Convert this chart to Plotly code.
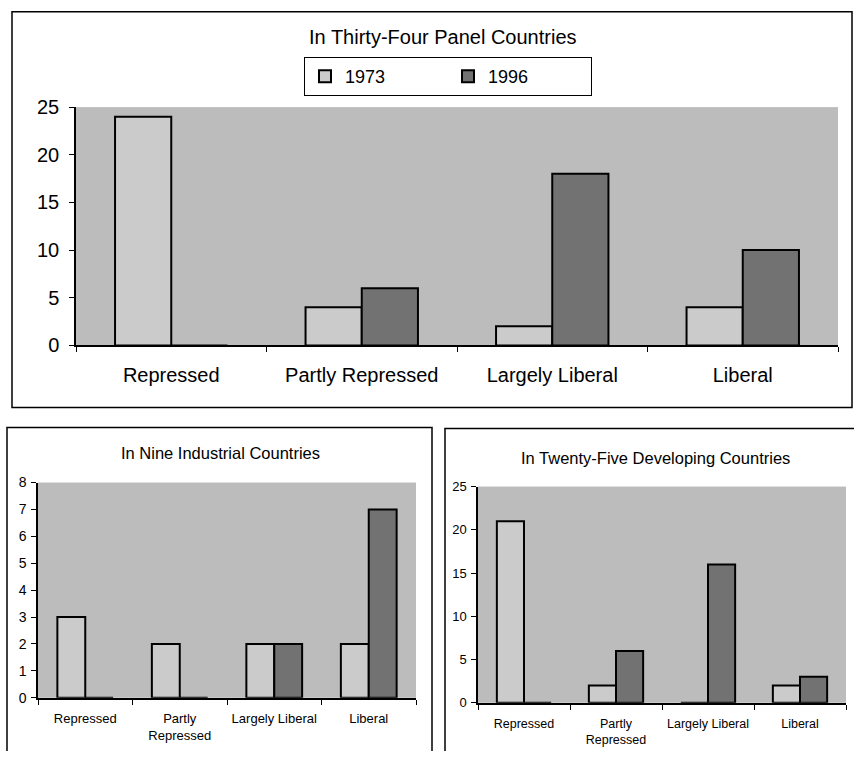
import plotly.graph_objects as go

# Financial-regime categories and country counts per year
categories = ["Repressed", "Partly Repressed", "Largely Liberal", "Liberal"]
categories_small = ["Repressed", "Partly<br>Repressed", "Largely Liberal", "Liberal"]
years = ["1973", "1996"]

panel_1973 = [24, 4, 2, 4]
panel_1996 = [0, 6, 18, 10]

industrial_1973 = [3, 2, 2, 2]
industrial_1996 = [0, 0, 2, 7]

developing_1973 = [21, 2, 0, 2]
developing_1996 = [0, 6, 16, 3]

W, H = 854, 762
FONT = "Liberation Sans, Arial, sans-serif"
PLOT_BG = "#bcbcbc"
COLOR_1973 = "#cbcbcb"
COLOR_1996 = "#727272"

# rows are given in screen pixels and converted to figure rows
ROW_OFFSET, ROW_SCALE = 11.0, 0.97


def px_x(x):
    return x / W


def px_y(y):
    fig_row = (y - ROW_OFFSET) / ROW_SCALE
    return min(1.0, max(0.0, 1 - fig_row / H))


fig = go.Figure()

panels = [
    # (x axis, y axis, categories, 1973, 1996, show legend)
    ("x", "y", categories, panel_1973, panel_1996, True),
    ("x2", "y2", categories_small, industrial_1973, industrial_1996, False),
    ("x3", "y3", categories_small, developing_1973, developing_1996, False),
]

for xa, ya, cats, v73, v96, show in panels:
    for name, vals, col in ((years[0], v73, COLOR_1973), (years[1], v96, COLOR_1996)):
        fig.add_trace(go.Bar(
            x=cats, y=vals, name=name, xaxis=xa, yaxis=ya,
            marker=dict(color=col, line=dict(color="black", width=2)),
            showlegend=show, legendgroup=name, offsetgroup=name,
        ))

axis_common = dict(showgrid=False, zeroline=False, showline=True, linecolor="black",
                   linewidth=1.5, ticks="outside", tickcolor="black", ticklen=5,
                   fixedrange=True)

fig.update_layout(
    width=W, height=H,
    margin=dict(l=0, r=0, t=0, b=0),
    paper_bgcolor="white",
    plot_bgcolor=PLOT_BG,
    barmode="group", bargap=0.41, bargroupgap=0,
    font=dict(family=FONT, color="black"),
    legend=dict(
        orientation="h", x=px_x(448), y=px_y(57), xanchor="center", yanchor="top",
        bgcolor="white", bordercolor="black", borderwidth=1,
        font=dict(size=18, family=FONT), entrywidth=98, itemwidth=30,
        traceorder="normal", tracegroupgap=0,
    ),
    xaxis=dict(domain=[px_x(76), px_x(838)], anchor="y", tickson="boundaries",
               tickfont=dict(size=20), ticklabelstandoff=11, tickangle=0, **axis_common),
    yaxis=dict(domain=[px_y(345), px_y(107)], anchor="x", range=[0, 25], dtick=5,
               tickfont=dict(size=20), ticklabelstandoff=6, **axis_common),
    xaxis2=dict(domain=[px_x(38), px_x(416)], anchor="y2", tickson="boundaries",
                tickfont=dict(size=13), ticklabelstandoff=8, tickangle=0, **axis_common),
    yaxis2=dict(domain=[px_y(697), px_y(482)], anchor="x2", range=[0, 8], dtick=1,
                tickfont=dict(size=14), ticklabelstandoff=2, **axis_common),
    xaxis3=dict(domain=[px_x(478), px_x(846)], anchor="y3", tickson="boundaries",
                tickfont=dict(size=12.5), ticklabelstandoff=8, tickangle=0, **axis_common),
    yaxis3=dict(domain=[px_y(702), px_y(486)], anchor="x3", range=[0, 25], dtick=5,
                tickfont=dict(size=13), ticklabelstandoff=2, **axis_common),
)

frame_line = dict(color="black", width=1.5)

# Top panel frame (closed box)
fig.add_shape(type="rect", xref="paper", yref="paper",
              x0=px_x(12), x1=px_x(852), y0=px_y(407), y1=1 - 0.75 / H,
              line=frame_line, fillcolor="rgba(0,0,0,0)", layer="below")

# Lower panel frames run off the bottom of the page: draw left, top and right sides
for x0, y0, x1 in [(7, 427, 432), (445, 428, 856)]:
    path = (f"M {px_x(x0)},0 L {px_x(x0)},{px_y(y0)} "
            f"L {px_x(x1)},{px_y(y0)} L {px_x(x1)},0")
    fig.add_shape(type="path", xref="paper", yref="paper", path=path,
                  line=frame_line, layer="below")

titles = [
    ("In Thirty-Four Panel Countries", 443, 37, 20),
    ("In Nine Industrial Countries", 220, 452, 16.5),
    ("In Twenty-Five Developing Countries", 655, 457, 16.5),
]
for text, x, y, size in titles:
    fig.add_annotation(text=text, x=px_x(x), y=px_y(y), xref="paper", yref="paper",
                       showarrow=False, xanchor="center", yanchor="middle",
                       font=dict(size=size, family=FONT))

fig.write_html("out.html")
